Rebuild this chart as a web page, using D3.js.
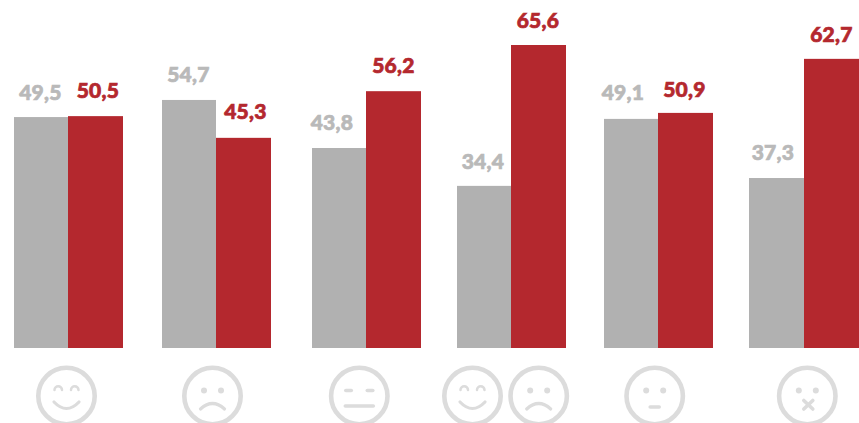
<!DOCTYPE html>
<html><head><meta charset="utf-8">
<script src="https://cdn.jsdelivr.net/npm/d3@7"></script>
<style>html,body{margin:0;padding:0;background:#fff;overflow:hidden}svg{display:block}
text{font-family:Lato,sans-serif;font-weight:900;font-size:21px;letter-spacing:.3px;text-anchor:middle;stroke-width:.7px;paint-order:stroke}</style>
</head><body><svg id="c" width="859" height="423"></svg>
<script>
const categories = ["very-happy","sad","neutral","mixed","unsure","silent"];
const greyLabels = ["49,5","54,7","43,8","34,4","49,1","37,3"];
const redLabels = ["50,5","45,3","56,2","65,6","50,9","62,7"];
const greyBars = [50.0,53.7,43.3,35.1,49.6,36.8];
const redBars = [50.2,45.5,55.6,65.6,50.9,62.6];
const faces = [["smile"],["sad"],["flat"],["smile","sad"],["meh"],["cross"]];

const groupLeft = [14,162,312,457,604,749];
const groupMid = [68,216,366,511,658,804];
const groupRight = [123,271,421,566,713,859];
const greyDx = [-.5,-.5,-7,-1,-8,-3.5];
const redDx = [2.5,2,0,-.5,-1,0];
const greyDy = [-17.5,-18,-18,-17,-18.5,-18.5];
const redDy = [-18.5,-18.5,-18,-17.5,-15.5,-17];
const faceX = [[66.5],[212.5],[359.3],[472.5,538.7],[654.7],[807.3]];
const GREY="#b1b1b1", RED="#b4282e", FACE="#dcdcdc", GREYTEXT="#b9b9b9";
const svg = d3.select("#c");
const xL = d3.scaleOrdinal().domain(categories).range(groupLeft);
const xM = d3.scaleOrdinal().domain(categories).range(groupMid);
const xR = d3.scaleOrdinal().domain(categories).range(groupRight);
const y = d3.scaleLinear().domain([0,65.6]).range([348,45]);

const rows = categories.map((c,i)=>({c,grey:greyBars[i],red:redBars[i],greyL:greyLabels[i],redL:redLabels[i],greyD:greyDx[i],redD:redDx[i],greyY:greyDy[i],redY:redDy[i]}));
const g = svg.selectAll("g.cat").data(rows).join("g").attr("class","cat");
[["grey",GREY,GREYTEXT,xL,xM],["red",RED,RED,xM,xR]].forEach(([k,col,tcol,a,b])=>{
  g.append("rect").attr("x",d=>a(d.c)).attr("y",d=>y(d[k]))
   .attr("width",d=>b(d.c)-a(d.c)).attr("height",d=>y(0)-y(d[k])).attr("fill",col);
  g.append("text").attr("x",d=>(a(d.c)+b(d.c))/2+d[k+"D"]).attr("y",d=>y(d[k])+d[k+"Y"])
   .attr("fill",tcol).attr("stroke",tcol).text(d=>d[k+"L"]);
});

const dot=(s,a,b,r=3)=>s.append("circle").attr("cx",a).attr("cy",b).attr("r",r).attr("fill",FACE);
const stroke=(s,d,w=3.2)=>s.append("path").attr("d",d).attr("fill","none").attr("stroke",FACE).attr("stroke-width",w).attr("stroke-linecap","round");
const eyes=s=>{dot(s,-8.5,-5.5);dot(s,8.5,-5.5);};
const draw={
 smile:s=>{stroke(s,"M-12,-6 a3.6,3.6 0 0 1 7.5,0",2.5);stroke(s,"M4.5,-6 a3.6,3.6 0 0 1 7.5,0",2.5);stroke(s,"M-12.5,6 Q0,19 12.5,6");},
 sad:s=>{eyes(s);stroke(s,"M-12,13 Q0,2 12,13");},
 flat:s=>{stroke(s,"M-13.5,-5.5 H-8",3.6);stroke(s,"M8,-5.5 H13.5",3.6);stroke(s,"M-14,10 H14",3.6);},
 meh:s=>{eyes(s);stroke(s,"M-4.5,11 H4.5",3.6);},
 cross:s=>{eyes(s);stroke(s,"M-3.5,4.5 L5.5,13",3.6);stroke(s,"M5.5,4.5 L-3.5,13",3.6);}
};
const items=faces.flatMap((f,i)=>f.map((n,j)=>({n,fx:faceX[i][j]})));
svg.selectAll("g.face").data(items).join("g").attr("class","face")
 .attr("transform",d=>`translate(${d.fx},396)`)
 .each(function(d){const s=d3.select(this);
   s.append("circle").attr("r",28.2).attr("fill","none").attr("stroke",FACE).attr("stroke-width",4.6);
   draw[d.n](s);});
</script></body></html>
